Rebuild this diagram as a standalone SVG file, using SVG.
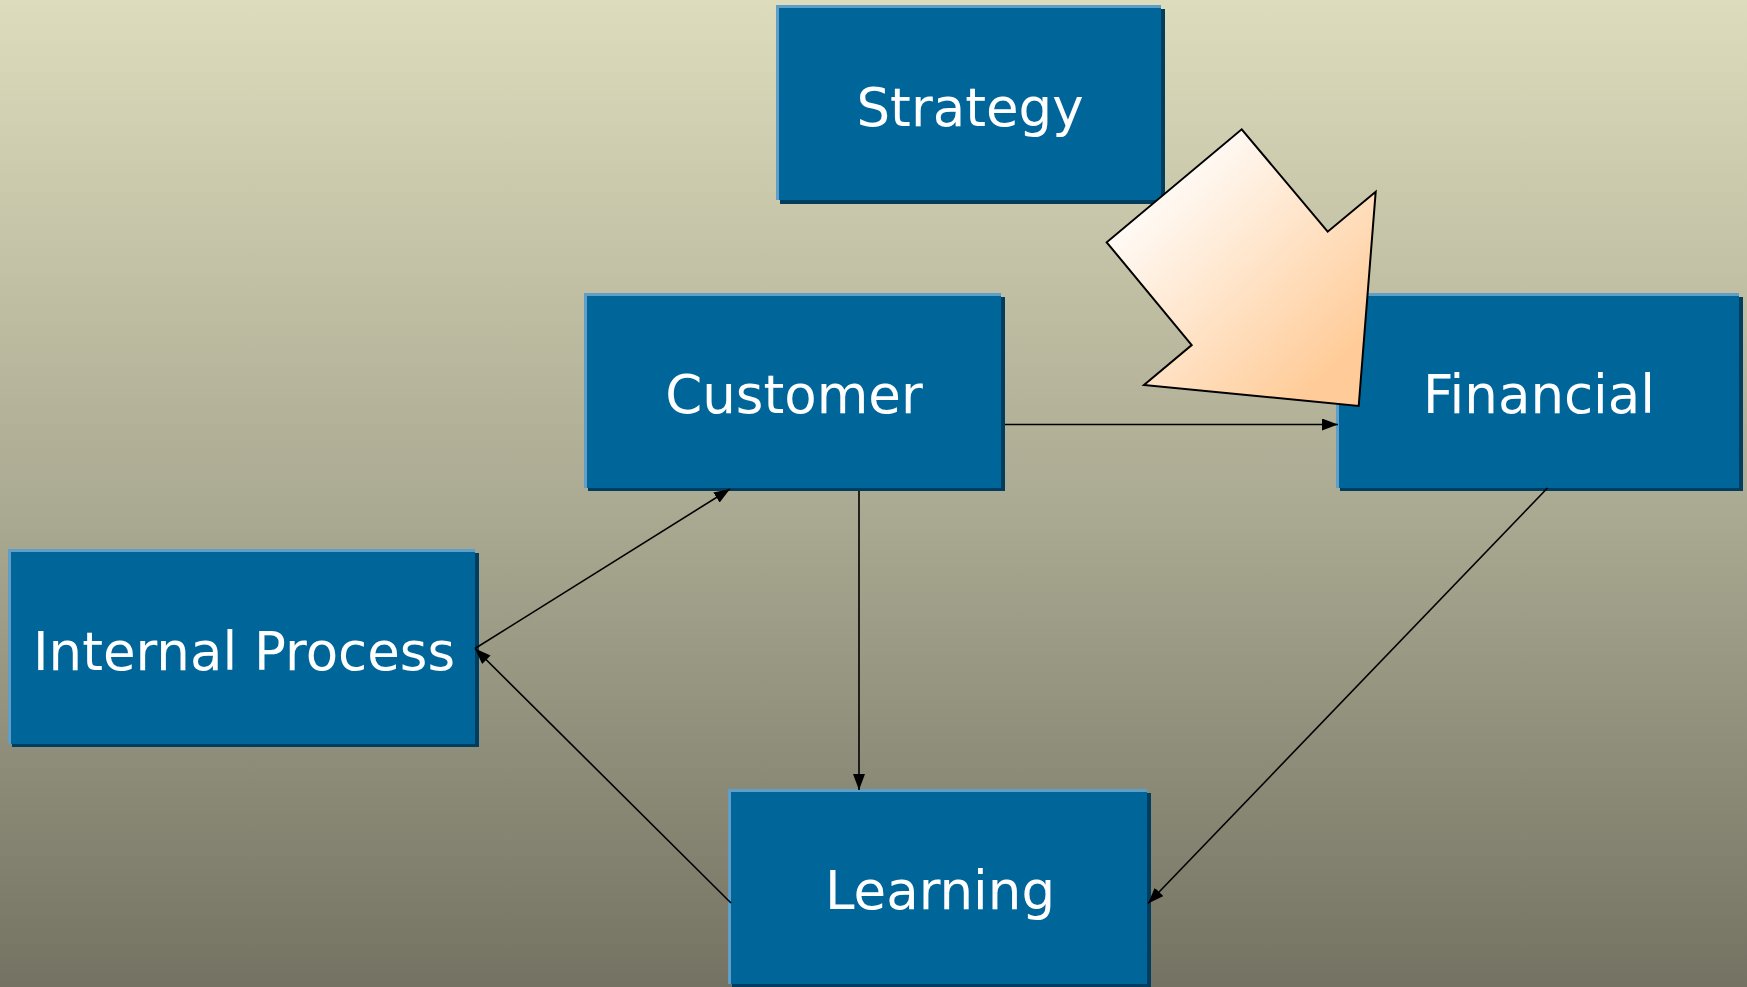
<svg xmlns="http://www.w3.org/2000/svg" width="1747" height="987" viewBox="0 0 1747 987">
<defs>
<linearGradient id="bg" x1="0" y1="0" x2="0" y2="1">
<stop offset="0" stop-color="#dddcbc"/>
<stop offset="0.5" stop-color="#acab93"/>
<stop offset="1" stop-color="#747363"/>
</linearGradient>
<linearGradient id="bigArrowFill" gradientUnits="userSpaceOnUse" x1="1140" y1="175" x2="1330" y2="370">
<stop offset="0" stop-color="#ffffff"/>
<stop offset="1" stop-color="#ffcc99"/>
</linearGradient>
<marker id="arr" markerUnits="userSpaceOnUse" markerWidth="17" markerHeight="12" refX="16" refY="6" orient="auto" viewBox="0 0 17 12">
<path d="M0,0 L16,6 L0,12 z" fill="#000"/>
</marker>
<style>
.shadow{fill:#003d5f}
.hl{fill:#5f9ec6}
.box{fill:#006699}
.lbl{font-family:"DejaVu Sans",Verdana,sans-serif;font-size:53px;fill:#ffffff;text-anchor:middle}
.conn{stroke:#000;stroke-width:1.6;fill:none;marker-end:url(#arr)}
</style>
</defs>
<rect x="0" y="0" width="1747" height="987" fill="url(#bg)"/>

<g id="strategy">
<rect class="shadow" x="780" y="9" width="385" height="195"/>
<rect class="hl" x="776" y="5" width="385" height="195"/>
<rect class="box" x="779" y="8" width="382" height="192"/>
<text class="lbl" x="970" y="126">Strategy</text>
</g>

<g id="customer">
<rect class="shadow" x="588" y="297" width="417" height="194"/>
<rect class="hl" x="584" y="293" width="417" height="195"/>
<rect class="box" x="587" y="296" width="414" height="192"/>
<text class="lbl" x="794" y="413">Customer</text>
</g>

<g id="financial">
<rect class="shadow" x="1340" y="297" width="403" height="194"/>
<rect class="hl" x="1336" y="293" width="403" height="195"/>
<rect class="box" x="1339" y="296" width="400" height="192"/>
<text class="lbl" x="1539" y="413">Financial</text>
</g>

<g id="internal-process">
<rect class="shadow" x="12" y="553" width="467" height="194"/>
<rect class="hl" x="8" y="549" width="467" height="195"/>
<rect class="box" x="11" y="552" width="464" height="192"/>
<text class="lbl" x="244" y="670">Internal Process</text>
</g>

<g id="learning">
<rect class="shadow" x="732" y="793" width="419" height="194"/>
<rect class="hl" x="728" y="789" width="419" height="195"/>
<rect class="box" x="731" y="792" width="416" height="192"/>
<text class="lbl" x="940" y="909">Learning</text>
</g>

<g id="connectors">
<line class="conn" x1="1005" y1="424.5" x2="1338" y2="424.5"/>
<line class="conn" x1="859" y1="491" x2="859" y2="790"/>
<line class="conn" x1="475" y1="648.5" x2="730" y2="489"/>
<line class="conn" x1="731" y1="903" x2="475" y2="648.5"/>
<line class="conn" x1="1547.5" y1="488" x2="1148" y2="903.5"/>
</g>

<g id="big-arrow">
<polygon points="1241.7,129.3 1327.7,231.7 1375.7,191.7 1358.7,406 1144,385 1191.7,345 1106.7,242.3" fill="url(#bigArrowFill)" stroke="#000" stroke-width="2" stroke-linejoin="miter"/>
</g>
</svg>
